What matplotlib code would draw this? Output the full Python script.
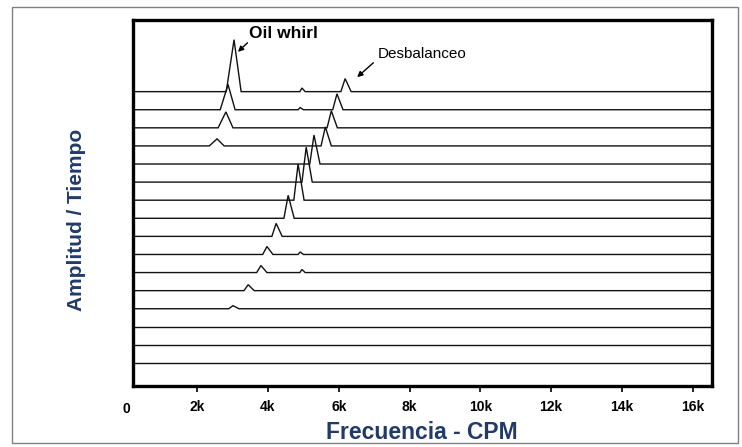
import numpy as np
import matplotlib
matplotlib.use("Agg")
import matplotlib.pyplot as plt
from matplotlib.patches import Rectangle
from matplotlib.transforms import blended_transform_factory

plt.rcParams['font.family'] = ['Liberation Sans', 'DejaVu Sans']

# Waterfall spectra, listed from the newest trace (top) to the oldest (bottom).
# 1X running-speed component (unbalance) for each trace, CPM and amplitude.
run_cpm = [6180, 5950, 5790, 5620, 5300, 5080, 4850, 4570, 4230, 3970, 3800, 3440, 3010, 0, 0, 0]
run_amp = [0.72, 0.88, 0.94, 1.05, 1.60, 1.93, 2.00, 1.27, 0.72, 0.44, 0.39, 0.33, 0.17, 0, 0, 0]

# Sub-synchronous oil whirl component (only present in the top traces).
whirl_cpm = [3040, 2870, 2810, 2560, 0, 0, 0, 0, 0, 0, 0, 0, 0, 0, 0, 0]
whirl_amp = [2.87, 1.40, 0.88, 0.39, 0, 0, 0, 0, 0, 0, 0, 0, 0, 0, 0, 0]

# Small component near 4.9k CPM.
minor_cpm = [4960, 4910, 0, 0, 0, 0, 0, 0, 0, 4910, 4960, 0, 0, 0, 0, 0]
minor_amp = [0.20, 0.12, 0, 0, 0, 0, 0, 0, 0, 0.14, 0.17, 0, 0, 0, 0, 0]

tick_cpm = [2000, 4000, 6000, 8000, 10000, 12000, 14000, 16000]
tick_labels = ["2k", "4k", "6k", "8k", "10k", "12k", "14k", "16k"]

X_MIN, X_MAX = 170, 16550
NAVY = "#213a68"


def trace(peaks):
    """Baseline across the band with triangular spectral lines."""
    pts = [(X_MIN, 0.0), (X_MAX, 0.0)]
    for f, a, hw_l, hw_r in peaks:
        if a <= 0:
            continue
        pts += [(f - hw_l, 0.0), (f, a), (f + hw_r, 0.0)]
    pts.sort(key=lambda p: p[0])
    xs = np.array([p[0] for p in pts])
    ys = np.array([p[1] for p in pts])
    return xs, ys


fig = plt.figure(figsize=(7.42, 4.47), dpi=100)
ax = fig.add_axes([132.5 / 742, 1 - 386 / 447, (712 - 132.5) / 742, (386 - 20) / 447])

n = len(run_cpm)
for i in range(n):
    offset = n - 1 - i
    xs, ys = trace([
        (whirl_cpm[i], whirl_amp[i], 220, 200),
        (minor_cpm[i], minor_amp[i], 60, 90),
        (run_cpm[i], run_amp[i], 120, 170),
    ])
    ax.plot(xs, ys + offset, color="#111111", lw=1.0, solid_joinstyle="miter")

ax.set_xlim(X_MIN, X_MAX)
ax.set_ylim(-1.27, 18.96)
ax.set_yticks([])
ax.set_xticks(tick_cpm)
ax.set_xticklabels(tick_labels, fontsize=10, fontweight="bold")
ax.tick_params(axis="x", direction="out", length=4, width=1.2, pad=6)
for sp in ax.spines.values():
    sp.set_linewidth(2.4)
    sp.set_color("black")

# "0" sits just left of the frame corner
ax.text(0, -0.045, "0", transform=blended_transform_factory(ax.transData, ax.transAxes),
        ha="center", va="top", fontsize=10, fontweight="bold")

ax.set_xlabel("Frecuencia - CPM", fontsize=16.5, fontweight="bold", color=NAVY)
ax.xaxis.set_label_coords(0.499, -0.128)
ax.xaxis.label.set_verticalalignment("center")
ax.set_ylabel("Amplitud / Tiempo", fontsize=15, fontweight="bold", color=NAVY)
ax.yaxis.set_label_coords(-0.096, 0.454)
ax.yaxis.label.set_verticalalignment("center")
ax.yaxis.label.set_horizontalalignment("center")

# Annotations
arrow = dict(arrowstyle="-|>", color="black", lw=1.0, mutation_scale=8, shrinkA=0, shrinkB=0)
ax.annotate("", xy=(3150, 17.2), xytext=(3420, 17.7), arrowprops=arrow, annotation_clip=False)
ax.text(3470, 18.2, "Oil whirl", fontsize=12.5, fontweight="bold", ha="left", va="center")
ax.annotate("", xy=(6520, 15.8), xytext=(6980, 16.6), arrowprops=arrow, annotation_clip=False)
ax.text(7100, 17.1, "Desbalanceo", fontsize=11, ha="left", va="center")

# Thin outer border around the whole figure
fig.patches.append(Rectangle((12 / 742, 4 / 447), 726 / 742, 436 / 447,
                             transform=fig.transFigure, fill=False,
                             edgecolor="#808080", lw=1.0))

fig.savefig("out.png", dpi=100)
